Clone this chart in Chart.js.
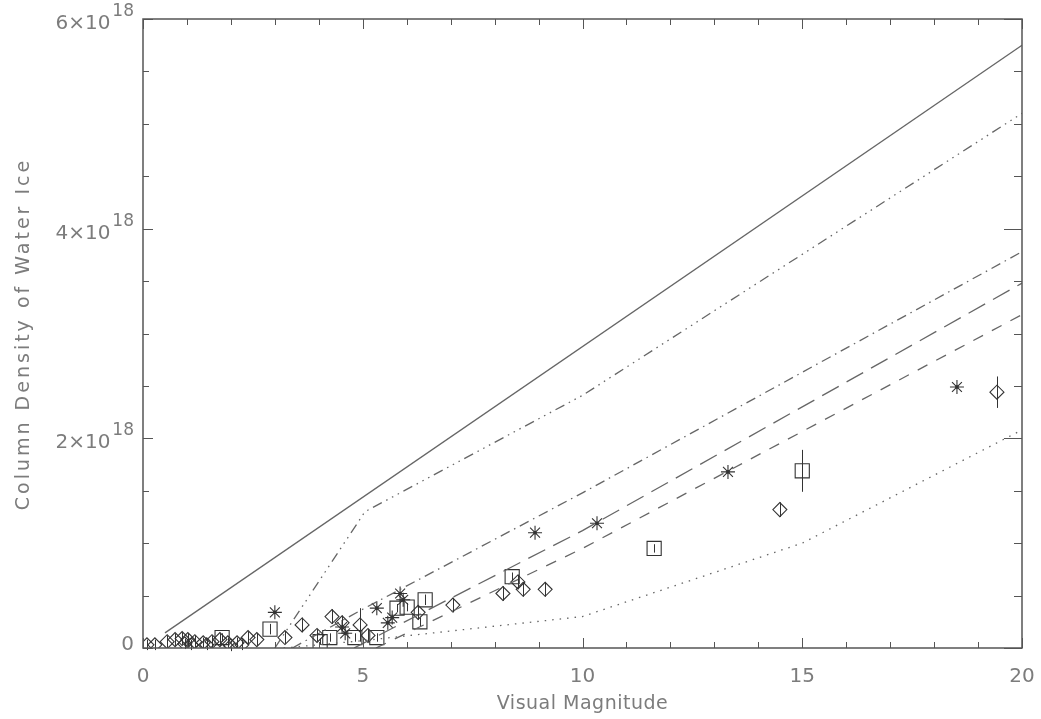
<!DOCTYPE html>
<html>
<head>
<meta charset="utf-8">
<script src="https://cdn.jsdelivr.net/npm/chart.js@4.4.0/dist/chart.umd.min.js"></script>
<style>
  html, body { margin: 0; padding: 0; background: #fff; }
  #wrap { width: 1041px; height: 719px; position: relative; }
</style>
</head>
<body>
<div id="wrap"><canvas id="chart"></canvas></div>
<script>
// column densities are in units of 10^18
const xTicks = [0, 5, 10, 15, 20];
const yTicks = [0, 2, 4, 6];
const yExponent = '18';

// model curves [visual magnitude, column density]
const solidLine = [[0.5, 0.144], [20, 5.75]];
const dash3DotLine = [[3.0, 0], [5.05, 1.30], [10, 2.41], [20, 5.1]];
const dashDotLine = [[3.4, 0], [5, 0.37], [10, 1.48], [20, 3.78]];
const longDashLine = [[4.8, 0], [10, 1.12], [20, 3.48]];
const shortDashLine = [[5.3, 0], [10, 0.95], [20, 3.18]];
const dottedLine = [[3.2, 0], [5, 0.07], [10, 0.3], [15, 1.0], [20, 2.08]];

// observations
const starMag = [3.0, 4.53, 4.6, 5.32, 5.57, 5.67, 5.92, 5.85, 8.92, 10.33, 13.31, 18.52];
const starN = [0.34, 0.2, 0.14, 0.38, 0.24, 0.29, 0.46, 0.52, 1.1, 1.19, 1.68, 2.49];

const squareMag = [1.8, 2.89, 4.03, 4.25, 4.82, 5.32, 5.78, 6.01, 6.3, 6.42, 8.4, 11.63, 15.0];
const squareN = [0.1, 0.18, 0.06, 0.1, 0.1, 0.1, 0.38, 0.39, 0.25, 0.46, 0.68, 0.95, 1.69];
const squareErr = [0.04, 0.05, 0.03, 0.04, 0.04, 0.04, 0.04, 0.04, 0.04, 0.05, 0.04, 0.04, 0.2];

const diamondMag = [0.09, 0.27, 0.55, 0.73, 0.89, 0.95, 1.02, 1.1, 1.18, 1.37, 1.45, 1.57, 1.75, 1.93, 2.0,
  2.14, 2.25, 2.39, 2.59, 3.23, 3.62, 3.96, 4.3, 4.53, 4.94, 5.12, 6.26, 7.05, 8.19, 8.53, 8.65, 9.15, 14.49, 19.43];
const diamondN = [0.03, 0.03, 0.06, 0.08, 0.09, 0.04, 0.08, 0.03, 0.06, 0.05, 0.03, 0.06, 0.08, 0.05, 0.02,
  0.05, 0.03, 0.1, 0.08, 0.1, 0.22, 0.12, 0.3, 0.24, 0.22, 0.12, 0.34, 0.41, 0.52, 0.63, 0.56, 0.56, 1.32, 2.44];
const diamondErr = [0.05, 0.05, 0.06, 0.06, 0.06, 0.05, 0.06, 0.05, 0.06, 0.05, 0.05, 0.06, 0.06, 0.05, 0.05,
  0.05, 0.05, 0.06, 0.06, 0.06, 0.07, 0.06, 0.07, 0.07, 0.16, 0.06, 0.07, 0.07, 0.07, 0.07, 0.07, 0.07, 0.07, 0.15];

const lineColor = '#666';
const markColor = '#333';
const textColor = '#7c7c7c';

function toPoints(pairs) {
  return pairs.map(p => ({ x: p[0], y: p[1] }));
}

function modelLine(pairs, dash) {
  return {
    type: 'line',
    data: toPoints(pairs),
    borderColor: lineColor,
    borderWidth: 1.3,
    borderDash: dash,
    pointRadius: 0,
    fill: false,
    tension: 0
  };
}

function markers(xs, ys, style, radius, errs) {
  return {
    type: 'scatter',
    data: xs.map((x, i) => ({ x: x, y: ys[i] })),
    pointStyle: style,
    pointRadius: radius,
    pointBorderColor: markColor,
    pointBackgroundColor: 'rgba(0,0,0,0)',
    pointBorderWidth: 1.1,
    errors: errs || null
  };
}

const frameAndErrors = {
  id: 'frameAndErrors',
  afterDatasetsDraw(chart) {
    const ctx = chart.ctx;
    const xs = chart.scales.x, ys = chart.scales.y;
    ctx.save();
    ctx.strokeStyle = markColor;
    ctx.fillStyle = markColor;
    ctx.lineWidth = 1;
    chart.data.datasets.forEach(ds => {
      if (ds.pointStyle === 'star') {
        ds.data.forEach(p => {
          ctx.beginPath();
          ctx.arc(xs.getPixelForValue(p.x), ys.getPixelForValue(p.y), 1.8, 0, Math.PI * 2);
          ctx.fill();
        });
      }
      if (!ds.errors) return;
      ds.data.forEach((p, i) => {
        const px = Math.round(xs.getPixelForValue(p.x)) + 0.5;
        ctx.beginPath();
        ctx.moveTo(px, ys.getPixelForValue(p.y - ds.errors[i]));
        ctx.lineTo(px, ys.getPixelForValue(p.y + ds.errors[i]));
        ctx.stroke();
      });
    });
    ctx.restore();
  },
  afterDraw(chart) {
    const ctx = chart.ctx;
    const a = chart.chartArea;
    const xs = chart.scales.x, ys = chart.scales.y;
    ctx.save();
    ctx.strokeStyle = '#555';
    ctx.lineWidth = 1.5;
    ctx.strokeRect(a.left, a.top, a.right - a.left, a.bottom - a.top);

    ctx.lineWidth = 1;
    ctx.beginPath();
    for (let v = xs.min; v <= xs.max; v += 1) {
      const px = Math.round(xs.getPixelForValue(v)) + 0.5;
      const len = v % 5 === 0 ? 10 : 6;
      ctx.moveTo(px, a.bottom); ctx.lineTo(px, a.bottom - len);
      ctx.moveTo(px, a.top); ctx.lineTo(px, a.top + len);
    }
    for (let v = ys.min; v <= ys.max + 1e-9; v += 0.5) {
      const py = Math.round(ys.getPixelForValue(v)) + 0.5;
      const major = Math.abs(v % 2) < 1e-9;
      ctx.moveTo(a.left, py); ctx.lineTo(a.left + (major ? 10 : 6), py);
      ctx.moveTo(a.right, py); ctx.lineTo(a.right - (major ? 18 : 8), py);
    }
    ctx.stroke();

    ctx.fillStyle = textColor;
    ctx.font = '20px "DejaVu Sans"';
    ctx.textAlign = 'center';
    ctx.textBaseline = 'alphabetic';
    xTicks.forEach(v => {
      ctx.fillText(String(v), xs.getPixelForValue(v), a.bottom + 34);
    });

    const labelRight = a.left - 9;
    yTicks.forEach(v => {
      const py = ys.getPixelForValue(v);
      ctx.textAlign = 'right';
      if (v === 0) {
        ctx.font = '20px "DejaVu Sans"';
        ctx.fillText('0', labelRight, py + 2);
        return;
      }
      ctx.font = '17px "DejaVu Sans"';
      const supW = ctx.measureText(yExponent).width;
      ctx.fillText(yExponent, labelRight, py - 3);
      ctx.font = '20px "DejaVu Sans"';
      ctx.fillText(v + '\u00d710', labelRight - supW - 2, py + 10);
    });

    ctx.textAlign = 'center';
    ctx.font = '19px "DejaVu Sans"';
    ctx.letterSpacing = '0.5px';
    ctx.fillText('Visual Magnitude', (a.left + a.right) / 2, a.bottom + 61);
    ctx.font = '19px "DejaVu Sans"';
    ctx.letterSpacing = '3px';
    ctx.translate(29, 334);
    ctx.rotate(-Math.PI / 2);
    ctx.fillText('Column Density of Water Ice', 0, 0);
    ctx.restore();
  }
};

new Chart(document.getElementById('chart'), {
  type: 'scatter',
  data: {
    datasets: [
      modelLine(solidLine, []),
      modelLine(dash3DotLine, [10, 5, 1.5, 5, 1.5, 5, 1.5, 5]),
      modelLine(dashDotLine, [10, 5, 1.5, 5]),
      modelLine(longDashLine, [19, 9]),
      modelLine(shortDashLine, [11, 10]),
      modelLine(dottedLine, [1.5, 6]),
      markers(diamondMag, diamondN, 'rectRot', 7, diamondErr),
      markers(squareMag, squareN, 'rect', 10, squareErr),
      markers(starMag, starN, 'star', 7)
    ]
  },
  options: {
    responsive: true,
    maintainAspectRatio: false,
    animation: false,
    layout: { padding: { left: 143, right: 19, top: 19, bottom: 71 } },
    plugins: { legend: { display: false }, tooltip: { enabled: false } },
    scales: {
      x: { type: 'linear', min: 0, max: 20, display: false },
      y: { type: 'linear', min: 0, max: 6, display: false }
    }
  },
  plugins: [frameAndErrors]
});
</script>
</body>
</html>
